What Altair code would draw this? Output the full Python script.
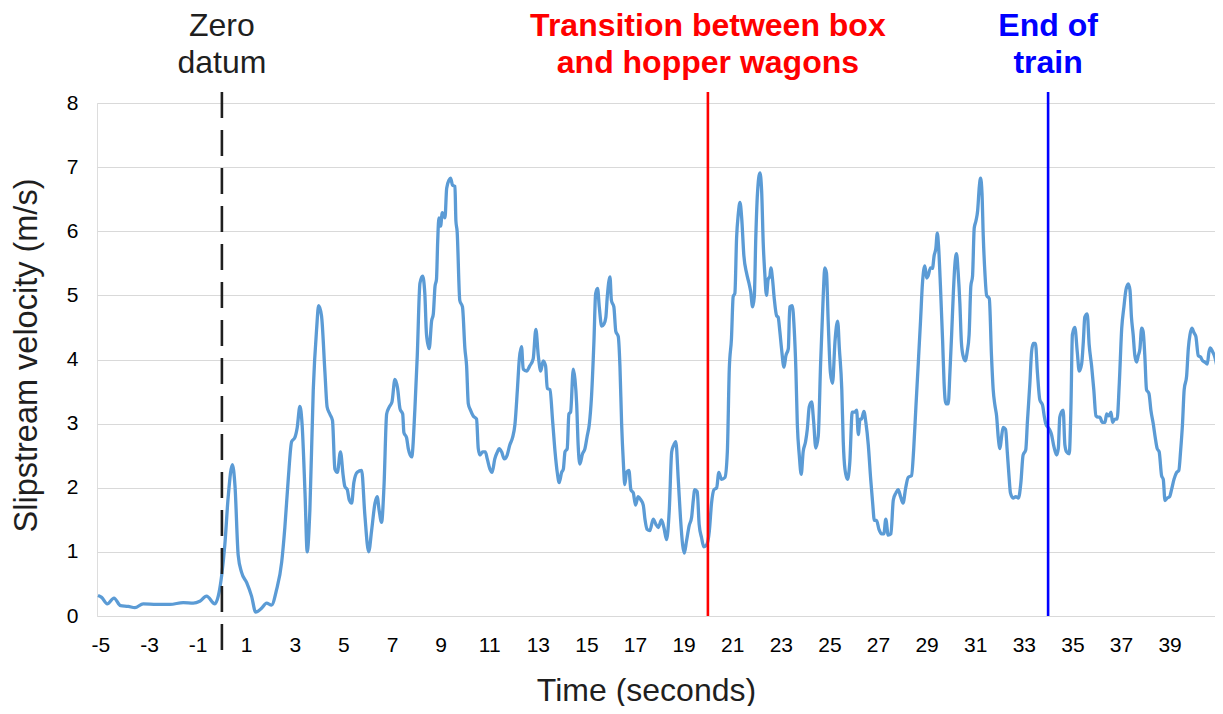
import altair as alt
import pandas as pd

time_s = [
    -5.1, -4.95, -4.72, -4.44, -4.17, -3.85, -3.58, -3.24, -2.69, -2.14, -1.59, -1.18, -0.91, -0.63, -0.29, -0.15,
    -0.01, 0.12, 0.26, 0.43, 0.54, 0.67, 0.81, 1.02, 1.22, 1.39, 1.63, 1.84, 2.04, 2.25, 2.46, 2.59, 2.73, 2.87,
    3.0, 3.1, 3.21, 3.3, 3.42, 3.51, 3.62, 3.76, 3.9, 3.98, 4.1, 4.24, 4.33,
    4.44, 4.55, 4.65, 4.75, 4.88, 4.99, 5.06, 5.16, 5.24, 5.34, 5.43, 5.57, 5.75, 5.88, 6.04, 6.16, 6.3, 6.39,
    6.47, 6.57, 6.67, 6.78, 6.89, 7.0, 7.12, 7.23, 7.33, 7.44, 7.49, 7.6, 7.67, 7.81, 7.94, 8.04, 8.15, 8.26,
    8.35, 8.42, 8.53, 8.63, 8.7, 8.77, 8.83, 8.88, 8.93, 9.0, 9.07, 9.18, 9.25, 9.35, 9.41, 9.49, 9.59, 9.63,
    9.68, 9.79, 9.9, 10.0, 10.07, 10.14, 10.23, 10.34, 10.48, 10.55, 10.62, 10.73, 10.84, 10.92, 11.03, 11.12,
    11.23, 11.34, 11.41, 11.51, 11.62, 11.74, 11.85, 11.96, 12.06, 12.16, 12.24, 12.33, 12.4, 12.54, 12.67,
    12.81, 12.92, 13.02, 13.12, 13.22, 13.32, 13.39, 13.5, 13.61, 13.71, 13.8, 13.88, 13.98, 14.05, 14.12, 14.21,
    14.28, 14.35, 14.46, 14.53, 14.6, 14.66, 14.73, 14.84, 14.94, 15.03, 15.12, 15.21, 15.31, 15.38, 15.46,
    15.53, 15.63, 15.72, 15.8, 15.86, 15.97, 16.03, 16.13, 16.21, 16.31, 16.38, 16.45, 16.52, 16.58, 16.65,
    16.75, 16.83, 16.93, 17.02, 17.13, 17.24, 17.34, 17.41, 17.5, 17.61, 17.75, 17.86, 17.96, 18.09, 18.19,
    18.3, 18.41, 18.51, 18.6, 18.68, 18.78, 18.87, 18.96, 19.03, 19.12, 19.23, 19.33, 19.4, 19.46, 19.56, 19.64,
    19.74, 19.83, 19.95, 20.06, 20.15, 20.25, 20.36, 20.45, 20.56, 20.7, 20.8, 20.88, 20.97, 21.04, 21.11,
    21.18, 21.25, 21.32, 21.39, 21.48, 21.59, 21.69, 21.76, 21.84, 21.91, 21.97, 22.04, 22.14, 22.21, 22.28,
    22.34, 22.41, 22.48, 22.55, 22.59, 22.66, 22.73, 22.83, 22.89, 22.96, 23.03, 23.13, 23.21, 23.31, 23.37,
    23.47, 23.55, 23.62, 23.68, 23.76, 23.84, 23.92, 24.02, 24.09, 24.17, 24.27, 24.35, 24.44, 24.54,
    24.64, 24.75, 24.81, 24.88, 24.95, 25.04, 25.13, 25.23, 25.34, 25.41, 25.51, 25.57, 25.64, 25.74, 25.84,
    25.94, 26.05, 26.12, 26.19, 26.26, 26.32, 26.42, 26.5, 26.6, 26.7, 26.78, 26.85, 26.94, 27.04, 27.15,
    27.24, 27.32, 27.42, 27.53, 27.63, 27.74, 27.83, 27.93, 28.03, 28.14, 28.24, 28.38, 28.47, 28.56, 28.66,
    28.75, 28.83, 28.93, 29.0, 29.06, 29.16, 29.24, 29.31, 29.38, 29.44, 29.49, 29.57, 29.66, 29.72, 29.79,
    29.89, 29.96, 30.03, 30.1, 30.16, 30.23, 30.3, 30.37, 30.43, 30.5, 30.59, 30.67, 30.75, 30.82, 30.89,
    30.96, 31.03, 31.1, 31.17, 31.22, 31.28, 31.33, 31.4, 31.47, 31.58, 31.67, 31.74, 31.81, 31.88, 31.95,
    32.02, 32.08, 32.15, 32.25, 32.32, 32.39, 32.45, 32.56, 32.67, 32.78, 32.88, 32.97, 33.08, 33.15, 33.25,
    33.32, 33.39, 33.48, 33.56, 33.66, 33.77, 33.84, 33.91, 34.0, 34.07,
    34.14, 34.24, 34.35, 34.42, 34.48, 34.55, 34.62, 34.69, 34.76, 34.87, 34.94, 35.0, 35.1, 35.2, 35.28,
    35.38, 35.45, 35.51, 35.61, 35.69, 35.79, 35.88, 35.97, 36.06, 36.13, 36.23, 36.34, 36.41, 36.5, 36.59,
    36.65, 36.75, 36.84, 36.93, 37.03, 37.12, 37.2, 37.3, 37.37, 37.43, 37.5, 37.57, 37.64, 37.71, 37.78,
    37.85, 37.91, 37.98, 38.05, 38.15, 38.23, 38.33, 38.41, 38.49, 38.57, 38.67, 38.74, 38.81, 38.9, 39.0,
    39.08, 39.18, 39.29, 39.38, 39.45, 39.53, 39.6, 39.7, 39.77, 39.84, 39.92, 40.0, 40.08, 40.18, 40.27,
    40.36, 40.45, 40.55, 40.62, 40.68, 40.77, 40.86, 40.95, 41.03, 41.08,
]

velocity = [
    0.32, 0.29, 0.19, 0.28, 0.16, 0.15, 0.13, 0.19, 0.18, 0.18, 0.21, 0.2, 0.23, 0.31, 0.19, 0.31,
    0.63, 1.11, 1.86, 2.36, 2.02, 0.95, 0.68, 0.52, 0.31, 0.06, 0.12, 0.2, 0.17, 0.41, 0.84, 1.38, 2.13, 2.72,
    2.78, 2.94, 3.27, 2.99, 1.92, 1.0, 1.65, 3.53, 4.49, 4.84, 4.68, 3.8, 3.26,
    3.15, 3.05, 2.29, 2.24, 2.56, 2.19, 2.02, 1.97, 1.81, 1.76, 2.08, 2.24, 2.27, 1.59, 1.0, 1.33, 1.76, 1.86,
    1.65, 1.46, 2.02, 3.15, 3.26, 3.34, 3.69, 3.55, 3.23, 3.15, 2.86, 2.78, 2.61, 2.48, 3.21, 4.06, 5.19, 5.3,
    5.03, 4.39, 4.17, 4.6, 4.71, 5.14, 5.25, 5.84, 6.21, 6.08, 6.29, 6.21, 6.67, 6.8, 6.83, 6.72, 6.7, 6.16,
    6.0, 4.92, 4.82, 4.17, 3.9, 3.31, 3.21, 3.12, 3.07, 2.61, 2.51, 2.56, 2.56, 2.45, 2.29, 2.24,
    2.45, 2.56, 2.61, 2.56, 2.45, 2.51, 2.67, 2.78, 2.99, 3.53, 4.01, 4.2, 3.85, 3.82, 3.9,
    4.01, 4.47, 4.06, 3.82, 3.98, 3.9, 3.55, 3.53, 3.04, 2.56, 2.24, 2.08, 2.24, 2.29, 2.56, 2.61,
    3.15, 3.18, 3.85, 3.69, 3.3, 2.67, 2.37, 2.53, 2.61, 2.8, 2.99, 3.42, 4.28, 5.03, 5.11,
    4.82, 4.52, 4.55, 4.66, 4.98, 5.29, 4.92, 4.82, 4.44, 4.36, 3.9, 2.99, 2.4, 2.05, 2.24,
    2.27, 1.97, 1.92, 1.73, 1.86, 1.81, 1.73, 1.51, 1.35, 1.33, 1.51, 1.43, 1.38, 1.5, 1.38,
    1.19, 1.65, 2.56, 2.67, 2.72, 2.13, 1.54, 1.11, 0.98, 1.17, 1.41, 1.54, 1.81, 1.97, 1.94, 1.43,
    1.22, 1.08, 1.11, 1.33, 1.76, 1.97, 2.0, 2.24, 2.13, 2.16, 2.56, 3.85, 4.33, 4.98, 5.03,
    5.89, 6.27, 6.45, 6.21, 5.62, 5.35, 5.19, 5.06, 4.82, 4.98, 5.89, 6.59, 6.91, 6.64, 5.78,
    5.35, 5.0, 5.25, 5.3, 5.43, 5.25, 4.95, 4.68, 4.66, 4.44, 4.17, 3.88, 4.06, 4.17, 4.82,
    4.84, 4.49, 3.85, 2.99, 2.51, 2.21, 2.56, 2.72, 2.91, 3.26, 3.34, 3.04, 2.62, 2.8,
    3.96, 5.03, 5.43, 5.35, 4.6, 3.8, 3.63, 4.28, 4.6, 4.17, 3.53, 2.72, 2.29, 2.13, 2.4,
    3.18, 3.18, 3.21, 2.83, 3.07, 3.07, 3.19, 3.02, 2.67, 2.13, 1.76, 1.49, 1.49, 1.35, 1.28,
    1.28, 1.51, 1.26, 1.28, 1.81, 1.92, 1.97, 1.86, 1.76, 2.0, 2.16, 2.19, 2.61, 3.26, 3.96,
    4.6, 5.19, 5.46, 5.27, 5.3, 5.43, 5.42, 5.62, 5.73, 5.97, 5.78, 5.14, 4.28, 3.63, 3.31,
    3.31, 3.8, 4.39, 5.03, 5.46, 5.65, 5.35, 4.87, 4.28, 4.06, 3.98, 4.12, 4.39, 5.14, 5.3,
    6.05, 6.16, 6.32, 6.7, 6.83, 6.59, 5.94, 5.35, 5.0, 4.95, 4.06, 3.53, 3.29, 3.12, 2.78,
    2.61, 2.78, 2.94, 2.91, 2.56, 2.19, 1.92, 1.84, 1.86, 1.84, 2.08, 2.51, 2.59, 3.04, 3.63,
    4.12, 4.25, 4.25, 3.8, 3.37, 3.29, 3.12, 2.99, 2.94, 2.9,
    2.83, 2.64, 2.51, 2.61, 3.1, 3.18, 3.21, 2.67, 2.56, 2.53, 3.26, 4.39, 4.5, 4.12, 3.82,
    3.93, 4.28, 4.66, 4.71, 4.23, 3.9, 3.53, 3.12, 3.1, 3.1, 3.02, 3.02, 3.15, 3.12, 3.18,
    3.02, 3.07, 3.07, 3.63, 4.49, 4.82, 5.08, 5.18, 5.08, 4.66, 4.39, 4.06, 3.96, 4.06, 4.17,
    4.49, 4.44, 4.06, 3.53, 3.47, 3.21, 2.99, 2.78, 2.61, 2.56, 2.19, 2.13, 1.8, 1.84, 1.86,
    1.97, 2.13, 2.24, 2.27, 2.56, 2.99, 3.53, 3.74, 4.17, 4.39, 4.49, 4.42, 4.36, 4.06, 4.04,
    3.98, 3.96, 3.93, 4.12, 4.18, 4.12, 4.04, 3.88, 3.63, 3.37,
]

x_ticks = list(range(-5, 40, 2))
y_ticks = list(range(0, 9))

marker_times = [0, 20, 34]
marker_line1 = ["Zero", "Transition between box", "End of"]
marker_line2 = ["datum", "and hopper wagons", "train"]
marker_colors = ["#1f1f1f", "#ff0000", "#0000ff"]
marker_weights = ["normal", "bold", "bold"]

FONT = "Liberation Sans"
W, H = 1118, 513
X_MIN = -5.14
PX_PER_S = 24.3
X_MAX = X_MIN + W / PX_PER_S

df = pd.DataFrame({"t": time_s, "v": velocity})
markers = pd.DataFrame({
    "t": marker_times, "l1": marker_line1, "l2": marker_line2,
    "c": marker_colors, "w": marker_weights,
})

xscale = alt.Scale(domain=[X_MIN, X_MAX], nice=False, zero=False)
yscale = alt.Scale(domain=[0, 8], nice=False)

line = alt.Chart(df).mark_line(
    color="#5B9BD5", strokeWidth=3.3, clip=True, interpolate="monotone", strokeJoin="round"
).encode(
    x=alt.X("t:Q", scale=xscale, axis=alt.Axis(
        values=x_ticks, title="Time (seconds)", grid=False, domain=False, ticks=False, tickSize=0,
        labelFontSize=21, labelFont=FONT, labelColor="#000000", labelPadding=35,
        labelBaseline="alphabetic", labelExpr="'' + datum.value", labelFlush=False,
        titleFont=FONT, titleFontSize=32, titleFontWeight="normal", titleColor="#1f1f1f",
        titleX=549, titleY=84, titleBaseline="alphabetic", titleAlign="center", titleAnchor="start",
    )),
    y=alt.Y("v:Q", scale=yscale, axis=alt.Axis(
        values=y_ticks, title="Slipstream velocity (m/s)", grid=True, gridColor="#d9d9d9", gridWidth=1,
        domain=False, ticks=False, tickSize=0,
        labelFontSize=21, labelFont=FONT, labelColor="#000000", labelPadding=19,
        titleFont=FONT, titleFontSize=32.5, titleFontWeight="normal", titleColor="#1f1f1f",
        titleX=-61, titleY=252, titleBaseline="alphabetic", titleAlign="center", titleAngle=270,
        titleAnchor="start",
    )),
)

zero_rule = alt.Chart(markers.iloc[[0]]).mark_rule(
    color="#1f1f1f", strokeWidth=2.6, strokeDash=[26, 12]
).encode(x=alt.X("t:Q", scale=xscale), y=alt.value(-11), y2=alt.value(547))

red_rule = alt.Chart(markers.iloc[[1]]).mark_rule(color="#ff0000", strokeWidth=2.6).encode(
    x=alt.X("t:Q", scale=xscale), y=alt.value(-11), y2=alt.value(H))

blue_rule = alt.Chart(markers.iloc[[2]]).mark_rule(color="#0000ff", strokeWidth=2.6).encode(
    x=alt.X("t:Q", scale=xscale), y=alt.value(-11), y2=alt.value(H))

text_layers = []
for i in range(3):
    sub = markers.iloc[[i]]
    for field, yy in (("l1", -67), ("l2", -30)):
        text_layers.append(
            alt.Chart(sub).mark_text(
                font=FONT, fontSize=32, fontWeight=marker_weights[i], color=marker_colors[i],
                align="center", baseline="alphabetic",
            ).encode(x=alt.X("t:Q", scale=xscale), y=alt.value(yy), text=f"{field}:N")
        )

chart = alt.layer(line, zero_rule, red_rule, blue_rule, *text_layers).properties(
    width=W, height=H,
    autosize=alt.AutoSizeParams(type="none"),
    padding={"left": 89, "top": 95, "right": 0, "bottom": 90},
).configure_view(stroke=None).configure(background="white")

chart.save("out.html", embed_options={"renderer": "svg", "actions": False})
